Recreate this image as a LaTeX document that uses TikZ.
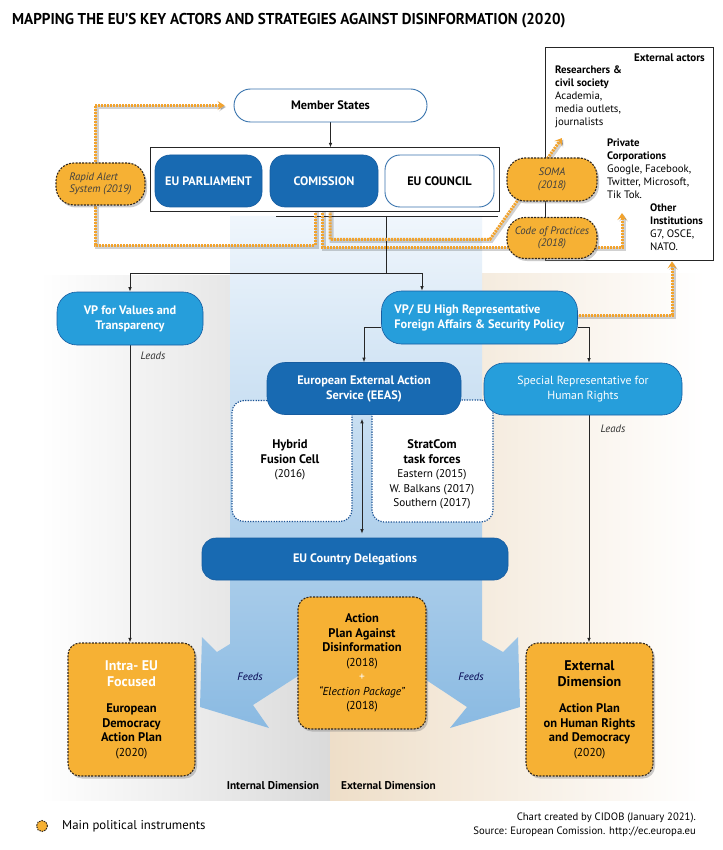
\documentclass[tikz,border=0pt]{standalone}
\usepackage{fontspec}
\setmainfont{PT Sans}
\usepackage{graphicx}
\usetikzlibrary{arrows.meta,shadows,calc}
\definecolor{dblue}{RGB}{24,106,178}
\definecolor{lblue}{RGB}{38,158,219}
\definecolor{bordblue}{RGB}{22,92,160}
\definecolor{orng}{RGB}{246,177,52}
\definecolor{odot}{RGB}{242,163,45}
\definecolor{bdark}{RGB}{50,40,30}
\definecolor{beige}{RGB}{238,222,200}
\definecolor{greybg}{RGB}{218,218,218}
\definecolor{bandtop}{RGB}{240,246,252}
\definecolor{bandbot}{RGB}{138,186,226}
\definecolor{taskblue}{RGB}{30,85,150}
\newcommand{\bb}[1]{{\bfseries\fontsize{12.5}{14.5}\selectfont #1}}
\newcommand{\hh}[1]{{\bfseries\fontsize{14}{16}\selectfont #1}}
\pgfdeclarelayer{bg}
\pgfdeclarelayer{mid}
\pgfsetlayers{bg,mid,main}
\begin{document}
\begin{tikzpicture}[x=1pt, y=-1pt,
 base/.style={inner sep=0pt, align=center, text=white, font=\bfseries\fontsize{12.3}{15}\selectfont},
 dbox/.style={base, fill=dblue, draw=bordblue, line width=0.6pt},
 lbox/.style={base, fill=lblue, draw=bordblue, line width=0.6pt},
 wbox/.style={base, fill=white, draw=bordblue!85, line width=0.9pt, text=black},
 instr/.style={inner sep=0pt, align=center, fill=orng, draw=bdark, line width=1.1pt, dash pattern=on 2pt off 1.3pt, drop shadow={opacity=0.4, shadow xshift=2pt, shadow yshift=-2.5pt}},
 pill/.style={instr, rounded corners=18pt, text=black!75, font=\itshape\fontsize{10.8}{12.5}\selectfont},
 plan/.style={instr, rounded corners=12pt, minimum width=127pt, minimum height=133pt, font=\fontsize{11.5}{14.5}\selectfont, text=black},
 task/.style={fill=white, draw=taskblue, line width=1.2pt, dash pattern=on 1.3pt off 1.3pt, rounded corners=12pt},
 tline/.style={draw=black!85, line width=0.8pt},
 conn/.style={tline, -{Latex[length=4.5pt,width=3.5pt]}},
 dconn/.style={tline, {Latex[length=4.5pt,width=3.5pt]}-{Latex[length=4.5pt,width=3.5pt]}},
 oline/.style={draw=odot, line width=3pt, dash pattern=on 2pt off 1pt, preaction={draw=black, opacity=0.18, line width=4pt, solid, transform canvas={xshift=1.5pt,yshift=-1.5pt}}},
 oarrow/.style={oline, -{Stealth[length=7pt,width=9pt,inset=3pt]}},
 lead/.style={font=\itshape\fontsize{10.8}{12}\selectfont, text=black!80, inner sep=0},
 exttxt/.style={anchor=north west, align=left, inner sep=0, font=\fontsize{10.8}{13}\selectfont},
]
\useasboundingbox (0,0) rectangle (722,850);
% ---------- background ----------
\begin{pgfonlayer}{bg}
\fill[white] (0,0) rectangle (722,850);
\shade[left color=white, right color=greybg] (40,275) rectangle (330,800);
\shade[left color=beige, right color=white] (330,273) rectangle (705,800);
\shade[top color=bandtop, bottom color=bandbot] (230,216) -- (482,216) -- (482,640) -- (503,652) -- (518,637) -- (520,707) -- (450,728) -- (467,707) -- (360,636) -- (253,705) -- (269,728) -- (200,707) -- (202,637) -- (217,652) -- (230,644) -- cycle;
\node[draw=black!85, line width=0.9pt, fill=white, minimum width=168pt, minimum height=213pt, inner sep=0] (ext) at (629,153.5) {};
\end{pgfonlayer}
% ---------- title ----------
\node[anchor=base west, inner sep=0, font=\bfseries\fontsize{15.7}{18}\selectfont] (title) at (12,25) {\scalebox{0.959}[1]{MAPPING THE EU’S KEY ACTORS AND STRATEGIES AGAINST DISINFORMATION (2020)}};
% ---------- external actors ----------
\node[anchor=base east, inner sep=0, font=\bfseries\fontsize{11}{13}\selectfont] (extt) at (705,62) {External actors};
\node[exttxt] (res) at (555,66) {\textbf{Researchers \&}\\\textbf{civil society}\\Academia,\\media outlets,\\journalists};
\node[exttxt] (priv) at (607,139) {\textbf{Private}\\\textbf{Corporations}\\Google, Facebook,\\Twitter, Microsoft,\\Tik Tok.};
\node[exttxt] (oth) at (650,204) {\textbf{Other}\\\textbf{Institutions}\\G7, OSCE,\\NATO.};
\coordinate (resarrow) at (562,138);
\coordinate (privarrow) at (622,213);
% ---------- top institutions ----------
\node[wbox, rounded corners=16.5pt, minimum width=193pt, minimum height=33pt] (ms) at (330.5,105.5) {Member States};
\node[draw=black!85, line width=1pt, fill=white, minimum width=349pt, minimum height=64pt, inner sep=0] (big) at (324.5,180) {};
\node[dbox, rounded corners=15pt, minimum width=107pt, minimum height=52pt] (parl) at (208.5,181) {EU PARLIAMENT};
\node[dbox, rounded corners=15pt, minimum width=108pt, minimum height=52pt] (com) at (324,181) {COMISSION};
\node[wbox, rounded corners=15pt, minimum width=109pt, minimum height=52pt] (cou) at (439.5,181) {EU COUNCIL};
% ---------- VPs ----------
\node[lbox, rounded corners=20pt, minimum width=146pt, minimum height=53pt] (vpv) at (130,318.5) {VP for Values and\\Transparency};
\node[lbox, rounded corners=20pt, minimum width=196pt, minimum height=53pt, align=left] (vphr) at (479.5,317.5) {VP/ EU High Representative\\Foreign Affairs \& Security Policy};
% ---------- EEAS block ----------
\node[task, minimum width=120pt, minimum height=121pt] (hyb) at (292,461) {};
\node[task, minimum width=121pt, minimum height=122pt] (strat) at (432.5,461) {};
\node[anchor=north, align=center, inner sep=0, font=\fontsize{11.2}{14.5}\selectfont] (hybt) at (290,439.5) {\bb{Hybrid}\\\bb{Fusion Cell}\\(2016)};
\node[anchor=north, align=center, inner sep=0, font=\fontsize{11.2}{14.5}\selectfont] (stratt) at (432,439.5) {\bb{StratCom}\\\bb{task forces}\\Eastern (2015)\\W. Balkans (2017)\\Southern (2017)};
\node[dbox, rounded corners=18pt, minimum width=194pt, minimum height=52pt] (eeas) at (364,388.5) {European External Action\\Service (EEAS)};
\node[lbox, font=\fontsize{11.8}{14.5}\selectfont, rounded corners=20pt, minimum width=198pt, minimum height=52pt] (sr) at (583,389) {Special Representative for\\Human Rights};
\node[dbox, rounded corners=14pt, minimum width=306pt, minimum height=42pt] (deleg) at (355,559) {EU Country Delegations};
% ---------- plans ----------
\node[plan] (intra) at (131.5,709.5) {\textcolor{white}{\hh{Intra- EU}}\\[1.5pt]\textcolor{white}{\hh{Focused}}\\[12pt]\bb{European}\\\bb{Democracy}\\\bb{Action Plan}\\(2020)};
\node[plan, minimum width=128pt, minimum height=132pt] (cplan) at (362,663) {\bb{Action}\\\bb{Plan Against}\\\bb{Disinformation}\\(2018)\\\textcolor{white}{+}\\\textit{“Election Package”}\\(2018)};
\node[plan] (extd) at (589.5,709.5) {\hh{External}\\[1.5pt]\hh{Dimension}\\[12pt]\bb{Action Plan}\\\bb{on Human Rights}\\\bb{and Democracy}\\(2020)};
% ---------- small instruments ----------
\node[pill, align=left, minimum width=89pt, minimum height=42pt] (rapid) at (100.5,184) {Rapid Alert\\System (2019)};
\node[pill, minimum width=90pt, minimum height=43pt] (soma) at (552,179.5) {SOMA\\(2018)};
\node[pill, minimum width=90pt, minimum height=41pt] (code) at (552,238) {Code of Practices\\(2018)};
% ---------- labels ----------
\node[lead] (lead1) at (153,356) {Leads};
\node[lead] (lead2) at (613,429) {Leads};
\node[lead, text=black!70!blue] (feed1) at (250,677) {Feeds};
\node[lead, text=black!70!blue] (feed2) at (471,677) {Feeds};
\node[inner sep=0, font=\bfseries\fontsize{11.3}{13}\selectfont] (intdim) at (273,786) {Internal Dimension};
\node[inner sep=0, font=\bfseries\fontsize{11.3}{13}\selectfont] (extdim) at (388.5,786) {External Dimension};
% ---------- legend & credits ----------
\node[circle, fill=orng, draw=bdark, line width=1pt, dash pattern=on 1.5pt off 1pt, minimum size=11pt, inner sep=0] (leg) at (42,826) {};
\node[anchor=west, inner sep=0, font=\fontsize{12.8}{14}\selectfont] (legt) at (62,826) {Main political instruments};
\node[anchor=north east, align=right, inner sep=0, font=\fontsize{10.7}{13.5}\selectfont] (cred) at (696,813) {Chart created by CIDOB (January 2021).\\Source: European Comission. http://ec.europa.eu};
% ---------- connectors ----------
\begin{pgfonlayer}{mid}
\draw[conn] (ms.south) -- (ms.south |- big.north);
\coordinate (brL) at (276,216);
\coordinate (brR) at (498,216);
\coordinate (brM) at (386,216);
\coordinate (split) at (386,273);
\coordinate (hrin) at (422,273);
\draw[tline] (brL) -- (brR);
\draw[tline] (brM) -- (split);
\draw[conn] (split) -| (vpv.north);
\draw[conn] (split) -- (hrin) -- (hrin |- vphr.north);
\draw[conn] ([yshift=-10pt]vphr.west) -| (eeas.north);
\draw[conn] ([yshift=-10pt]vphr.east) -| ([xshift=6pt]sr.north);
\draw[conn] (vpv.south) -- (vpv.south |- intra.north);
\draw[conn] ([xshift=6pt]sr.south) -- ([xshift=6pt]sr.south |- extd.north);
\draw[dconn, shorten <=4pt, shorten >=4pt] ([xshift=-2pt]eeas.south) -- ([xshift=-2pt]eeas.south |- deleg.north);
% orange dotted links
\draw[oarrow, shorten >=9pt] ([xshift=-5.5pt]rapid.north) |- (ms.west);
\draw[oline] ([xshift=-9pt]com.south) -- ++(0,38) -| ([xshift=-5.5pt]rapid.south);
\draw[oline] ([xshift=-2pt]com.south) |- ([yshift=-9pt,xshift=6pt]code.west);
\draw[oarrow] ([xshift=6pt]com.south) -- ++(0,32) -- ++(160,0) -- (resarrow);
\draw[oarrow] ([yshift=-9pt,xshift=-6pt]code.east) -| (privarrow);
\draw[oarrow, shorten >=1pt] ([yshift=2.5pt,xshift=-5pt]vphr.east) -| ([xshift=43pt]ext.south);
\end{pgfonlayer}
\end{tikzpicture}
\end{document}
